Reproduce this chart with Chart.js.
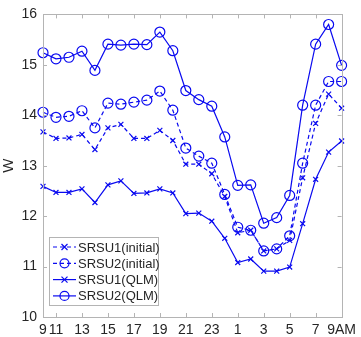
<!DOCTYPE html>
<html>
<head>
<meta charset="utf-8">
<script src="https://cdn.jsdelivr.net/npm/chart.js@4/dist/chart.umd.min.js"></script>
<style>
  html, body { margin: 0; padding: 0; background: #fff; }
  #wrap { width: 361px; height: 337px; }
</style>
</head>
<body>
<div id="wrap"><canvas id="myChart" width="361" height="337"></canvas></div>
<script>
// x categories (hour slots), only some carry a label
let hours = ["9", "11", "", "13", "", "15", "", "17", "", "19", "", "21", "", "23", "", "1", "", "3", "", "5", "", "7", "", "9AM"];

// series values (W)
let srsu1Initial = [13.67, 13.54, 13.55, 13.62, 13.32, 13.75, 13.82, 13.54, 13.54, 13.70, 13.50, 13.03,
  13.03, 12.84, 12.39, 11.67, 11.72, 11.31, 11.35, 11.52, 12.76, 13.84, 14.42, 14.14];
let srsu2Initial = [14.06, 13.96, 13.98, 14.09, 13.75, 14.24, 14.22, 14.26, 14.30, 14.48, 14.10, 13.35,
  13.19, 13.05, 12.43, 11.78, 11.72, 11.31, 11.35, 11.61, 13.05, 14.20, 14.67, 14.67];
let srsu1QLM = [12.59, 12.47, 12.47, 12.54, 12.27, 12.62, 12.70, 12.45, 12.46, 12.54, 12.46, 12.05,
  12.06, 11.90, 11.56, 11.08, 11.15, 10.91, 10.91, 10.99, 11.85, 12.73, 13.27, 13.49];
let srsu2QLM = [15.24, 15.12, 15.15, 15.27, 14.89, 15.41, 15.39, 15.41, 15.40, 15.65, 15.28, 14.49,
  14.31, 14.18, 13.57, 12.61, 12.62, 11.86, 11.97, 12.41, 14.20, 15.41, 15.80, 14.99];

let yTicks = [10, 11, 12, 13, 14, 15, 16];

let blue = "rgb(10, 10, 240)";
let textColor = "#262626";
let boxColor = "#b4b4b4";

// draws the axes box, inward tick marks and the legend inside the plot
let boxPlugin = {
  id: "boxPlugin",
  afterDraw(chart) {
    let ctx = chart.ctx;
    let a = chart.chartArea;
    let xs = chart.scales.x;
    let ys = chart.scales.y;
    ctx.save();
    ctx.strokeStyle = boxColor;
    ctx.lineWidth = 1;
    ctx.strokeRect(Math.round(a.left) + 0.5, Math.round(a.top) + 0.5,
      Math.round(a.right - a.left), Math.round(a.bottom - a.top));
    ctx.beginPath();
    hours.forEach(function (h, i) {
      if (h === "") return;
      let x = Math.round(xs.getPixelForValue(i)) + 0.5;
      ctx.moveTo(x, a.bottom);
      ctx.lineTo(x, a.bottom - 4);
      ctx.moveTo(x, a.top);
      ctx.lineTo(x, a.top + 4);
    });
    yTicks.forEach(function (v) {
      let y = Math.round(ys.getPixelForValue(v)) + 0.5;
      ctx.moveTo(a.left, y);
      ctx.lineTo(a.left + 4, y);
      ctx.moveTo(a.right, y);
      ctx.lineTo(a.right - 4, y);
    });
    ctx.stroke();

    // legend
    let lx = 49, ly = 237, lw = 109, lh = 68;
    ctx.fillStyle = "#fff";
    ctx.fillRect(lx, ly, lw, lh);
    ctx.strokeStyle = boxColor;
    ctx.strokeRect(lx + 0.5, ly + 0.5, lw, lh);
    ctx.font = "13px 'Liberation Sans', Arial, sans-serif";
    ctx.textBaseline = "middle";
    chart.data.datasets.forEach(function (ds, i) {
      let cy = ly + 10 + i * 16.3;
      ctx.strokeStyle = blue;
      ctx.lineWidth = 1.2;
      ctx.setLineDash(ds.borderDash || []);
      ctx.beginPath();
      ctx.moveTo(lx + 4, cy);
      ctx.lineTo(lx + 27, cy);
      ctx.stroke();
      ctx.setLineDash([]);
      ctx.beginPath();
      if (ds.pointStyle === "circle") {
        ctx.arc(lx + 15.5, cy, 4.5, 0, Math.PI * 2);
      } else {
        ctx.moveTo(lx + 12.5, cy - 3);
        ctx.lineTo(lx + 18.5, cy + 3);
        ctx.moveTo(lx + 18.5, cy - 3);
        ctx.lineTo(lx + 12.5, cy + 3);
      }
      ctx.stroke();
      ctx.fillStyle = textColor;
      ctx.fillText(ds.label, lx + 29, cy + 1);
    });
    ctx.restore();
  },
};

function makeSet(label, data, style, dashed) {
  return {
    label: label,
    data: data,
    borderColor: blue,
    backgroundColor: "rgba(0,0,0,0)",
    borderWidth: 1.2,
    borderDash: dashed ? [4, 3] : [],
    pointStyle: style,
    pointRadius: style === "circle" ? 5 : 3.5,
    pointBorderWidth: 1.2,
    pointBorderColor: blue,
    pointBackgroundColor: "rgba(0,0,0,0)",
    tension: 0,
  };
}

let ctx = document.getElementById("myChart").getContext("2d");
let chart = new Chart(ctx, {
  type: "line",
  data: {
    labels: hours,
    datasets: [
      makeSet("SRSU1(initial)", srsu1Initial, "crossRot", true),
      makeSet("SRSU2(initial)", srsu2Initial, "circle", true),
      makeSet("SRSU1(QLM)", srsu1QLM, "crossRot", false),
      makeSet("SRSU2(QLM)", srsu2QLM, "circle", false),
    ],
  },
  options: {
    responsive: false,
    animation: false,
    devicePixelRatio: 1,
    layout: { padding: { top: 11, right: 9, left: 0, bottom: 0 } },
    plugins: { legend: { display: false }, tooltip: { enabled: false } },
    scales: {
      x: {
        offset: false,
        grid: { display: false, drawTicks: false },
        border: { display: false },
        ticks: {
          autoSkip: false,
          maxRotation: 0,
          padding: 5,
          color: textColor,
          font: { family: "'Liberation Sans', Arial, sans-serif", size: 14 },
        },
        afterFit(scale) { scale.height = 20; },
      },
      y: {
        min: 10,
        max: 16,
        grid: { display: false, drawTicks: false },
        border: { display: false },
        ticks: {
          stepSize: 1,
          padding: 6,
          color: textColor,
          font: { family: "'Liberation Sans', Arial, sans-serif", size: 14 },
        },
        title: {
          display: true,
          text: "W",
          color: textColor,
          padding: 0,
          font: { family: "'Liberation Sans', Arial, sans-serif", size: 15 },
        },
        afterFit(scale) { scale.width = 43; },
      },
    },
  },
  plugins: [boxPlugin],
});
</script>
</body>
</html>
